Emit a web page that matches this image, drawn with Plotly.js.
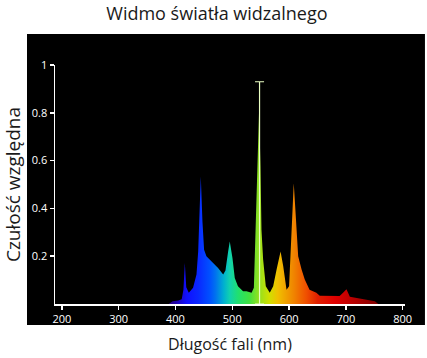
<!DOCTYPE html>
<html>
<head>
<meta charset="utf-8">
<script src="https://cdn.plot.ly/plotly-3.0.1.min.js"></script>
<style>html,body{margin:0;padding:0;background:#fff;}#chart{width:427px;height:358px;}</style>
</head>
<body>
<div id="chart"></div>
<script>
// Wavelength (nm) and relative sensitivity
const wavelength = [388, 395, 405, 411, 414, 416.5, 419, 423.5, 431, 437, 440, 442.3, 444.6, 447.5, 450.4, 454.5, 463, 475, 484, 488, 492.7, 495.6, 500.3, 504.4, 510, 519, 525, 534, 538, 541, 542.6, 545.5, 547.2, 549.6, 551.4, 554.3, 559, 566, 572, 578, 585, 589.7, 595.5, 600, 604, 608.2, 611.8, 616, 622, 627.6, 636, 645, 648, 654, 672, 689, 695, 701, 707, 719, 736, 751, 757];
const intensity = [0, 0.012, 0.015, 0.02, 0.06, 0.172, 0.07, 0.047, 0.068, 0.123, 0.22, 0.40, 0.533, 0.345, 0.227, 0.2, 0.179, 0.151, 0.123, 0.14, 0.22, 0.262, 0.193, 0.109, 0.074, 0.053, 0.053, 0.047, 0.068, 0.297, 0.478, 0.715, 0.812, 0.575, 0.311, 0.186, 0.074, 0.047, 0.074, 0.144, 0.22, 0.158, 0.06, 0.074, 0.297, 0.505, 0.366, 0.2, 0.144, 0.102, 0.06, 0.05, 0.047, 0.035, 0.035, 0.033, 0.047, 0.062, 0.03, 0.025, 0.02, 0.012, 0];

// Peak marker (error bar) at the green mercury line
const markerWavelength = [548];
const markerTop = [0.93];

// Spectral colour stops (wavelength nm -> colour)
const stopWavelengths = [380, 400, 420, 440, 460, 470, 485, 495, 510, 530, 546, 565, 580, 595, 610, 630, 650, 680, 720, 780];
const stopColors = ['#300060', '#2000a8', '#1010ff', '#0a28ff', '#0050ff', '#0070f0', '#00b0d0', '#10d0b0', '#20e070', '#40e040', '#90e020', '#d0e000', '#f0c000', '#f0a000', '#f08000', '#f05000', '#e02000', '#e00000', '#b00000', '#600000'];

// Axis ticks
const xTicks = [200, 300, 400, 500, 600, 700, 800];
const yTicks = [0.2, 0.4, 0.6, 0.8, 1];
const yTickText = ['0.2', '0.4', '0.6', '0.8', '1'];

const wlMin = stopWavelengths[0], wlMax = stopWavelengths[stopWavelengths.length - 1];
const colorscale = stopWavelengths.map((w, i) => [(w - wlMin) / (wlMax - wlMin), stopColors[i]]);

const spectrum = {
  x: wavelength, y: intensity, type: 'scatter', mode: 'lines',
  line: {width: 0, color: 'rgba(0,0,0,0)'},
  fill: 'tozeroy',
  fillgradient: {type: 'horizontal', colorscale: colorscale, start: wlMin, stop: wlMax},
  hoverinfo: 'skip', showlegend: false
};

const peakBar = {
  x: markerWavelength, y: markerWavelength.map(() => 0), type: 'scatter', mode: 'markers',
  marker: {size: 1, color: 'rgba(0,0,0,0)'},
  error_y: {type: 'data', symmetric: false, array: markerTop, arrayminus: markerTop.map(() => 0),
            color: '#eaffc4', thickness: 1.2, width: 4.5},
  hoverinfo: 'skip', showlegend: false
};

const layout = {
  width: 427, height: 358,
  margin: {l: 55, r: 22, t: 65, b: 54},
  paper_bgcolor: '#ffffff', plot_bgcolor: '#000000',
  showlegend: false,
  title: {text: 'Widmo światła widzalnego', font: {family: 'Open Sans', size: 18, color: '#1a1a1a'},
          x: 0.508, xref: 'container', y: 0.962, yref: 'container', yanchor: 'middle'},
  xaxis: {
    range: [188, 804], tickvals: xTicks, ticktext: xTicks.map(String),
    showgrid: false, zeroline: false, showline: true, linecolor: '#ffffff', linewidth: 1.5,
    ticks: 'outside', ticklen: 4, tickcolor: '#ffffff', tickwidth: 1.5,
    tickfont: {family: 'Open Sans', size: 11, color: '#ffffff'},
    title: {text: 'Długość fali (nm)', font: {family: 'Open Sans', size: 16, color: '#1a1a1a'}, standoff: 14}
  },
  yaxis: {
    range: [0, 1], tickvals: yTicks, ticktext: yTickText,
    showgrid: false, zeroline: false, showline: true, linecolor: '#ffffff', linewidth: 1.5,
    ticks: 'outside', ticklen: 4, tickcolor: '#ffffff', tickwidth: 1.5,
    tickfont: {family: 'Open Sans', size: 11, color: '#ffffff'},
    title: {text: 'Czułość względna', font: {family: 'Open Sans', size: 19, color: '#1a1a1a'}, standoff: 15}
  },
  shapes: [{
    type: 'rect', xref: 'paper', yref: 'paper', layer: 'below',
    x0: -0.08, x1: 1.057, y0: -0.088, y1: 1.13,
    fillcolor: '#000000', line: {width: 0}
  }]
};

Plotly.newPlot('chart', [spectrum, peakBar], layout, {displayModeBar: false, staticPlot: true});
</script>
</body>
</html>
